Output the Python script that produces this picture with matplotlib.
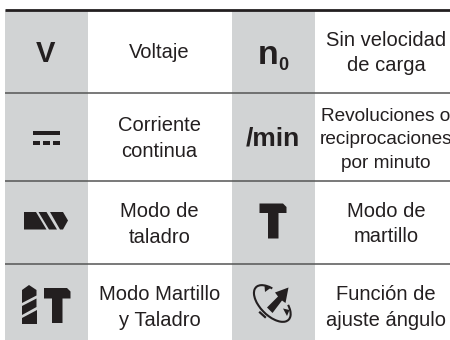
import matplotlib
matplotlib.use("Agg")
import matplotlib.pyplot as plt
from matplotlib.patches import Polygon, Rectangle, Arc

plt.rcParams["font.family"] = ["Liberation Sans", "DejaVu Sans"]

# table content, row by row
left_texts = ["Voltaje", "Corriente\ncontinua", "Modo de\ntaladro", "Modo Martillo\ny Taladro"]
right_texts = ["Sin velocidad\nde carga", "Revoluciones o\nreciprocaciones\npor minuto", "Modo de\nmartillo", "Función de\najuste ángulo"]

# layout in pixels
row_lines = [9.5, 92.5, 180.5, 263.5]
left_mid = [53, 138.5, 224.5, 307.5]
right_mid = [53, 140, 224, 307.5]
right_size = [14.5, 13.7, 14.5, 14.5]
gray = "#d1d3d4"
ink = "#231f20"
FS = 14.5
LS = 1.42

fig = plt.figure(figsize=(4.5, 3.4), dpi=100)
ax = fig.add_axes([0, 0, 1, 1])
ax.set_xlim(0, 450)
ax.set_ylim(340, 0)
ax.axis("off")

ax.add_patch(Rectangle((4.5, 10), 83, 330, fc=gray, ec="none"))
ax.add_patch(Rectangle((232, 10), 82.5, 330, fc=gray, ec="none"))

ax.plot([4.5, 450], [row_lines[0]] * 2, color=ink, lw=2.0, solid_capstyle="butt")
for y in row_lines[1:]:
    ax.plot([4.5, 450], [y, y], color="#555555", lw=1.1, solid_capstyle="butt")

for i in range(4):
    ax.text(159.5, left_mid[i], left_texts[i], ha="center", va="center", fontsize=FS, color=ink, linespacing=LS)
    ax.text(386, right_mid[i], right_texts[i], ha="center", va="center", fontsize=right_size[i], color=ink,
            linespacing=LS * FS / right_size[i])

ax.text(45.5, 62, "V", ha="center", va="baseline", fontsize=21, fontweight="bold", color=ink)
ax.text(257.5, 63.5, "n", ha="left", va="baseline", fontsize=24.5, fontweight="bold", color=ink)
ax.text(278.5, 70, "0", ha="left", va="baseline", fontsize=13, fontweight="bold", color=ink)
ax.text(272.5, 138, "/min", ha="center", va="center", fontsize=19, fontweight="bold", color=ink)


def poly(pts):
    ax.add_patch(Polygon(pts, closed=True, fc=ink, ec="none"))


# DC symbol
ax.add_patch(Rectangle((33, 131), 27, 3.5, fc=ink, ec="none"))
for x in (33, 43, 53):
    ax.add_patch(Rectangle((x, 141), 7, 4, fc=ink, ec="none"))

# horizontal drill bit
poly([(24, 212), (36, 212), (46.5, 229.5), (24, 229.5)])
poly([(38.5, 212), (46.5, 212), (57, 229.5), (49, 229.5)])
poly([(50, 212), (63, 212), (68, 220.5), (63, 229.5), (60, 229.5)])

# big hammer
poly([(259.5, 203.5), (283, 203.5), (286.5, 207), (286.5, 213), (278.5, 213), (278.5, 238.5),
      (268, 238.5), (268, 213), (259.5, 213)])

# small hammer
poly([(44, 288), (67, 288), (70.5, 291.5), (70.5, 298.5), (62.5, 298.5), (62.5, 323),
      (52, 323), (52, 298.5), (44, 298.5)])

# vertical drill bit
poly([(22, 290), (29, 285), (36.5, 290), (36.5, 295.5), (22, 303)])
poly([(36.5, 298.5), (36.5, 307), (22, 315), (22, 306)])
poly([(36.5, 310), (36.5, 324), (22, 324), (22, 318)])

# angle adjust symbol
ax.add_patch(Arc((272.3, 303.5), 46, 24, angle=45, theta1=-40, theta2=225, color=ink, lw=1.5))
poly([(267, 307.5), (278, 296.5), (275, 292.5), (288.5, 287.5), (285.5, 303), (282, 300.5), (272.5, 313)])
poly([(264.5, 285.5), (270.5, 288), (265, 292)])
poly([(283, 308.5), (289.5, 310), (287, 316)])
ax.plot([260, 265], [312.5, 317], color=ink, lw=1.6)

fig.savefig("out.png", dpi=100)
